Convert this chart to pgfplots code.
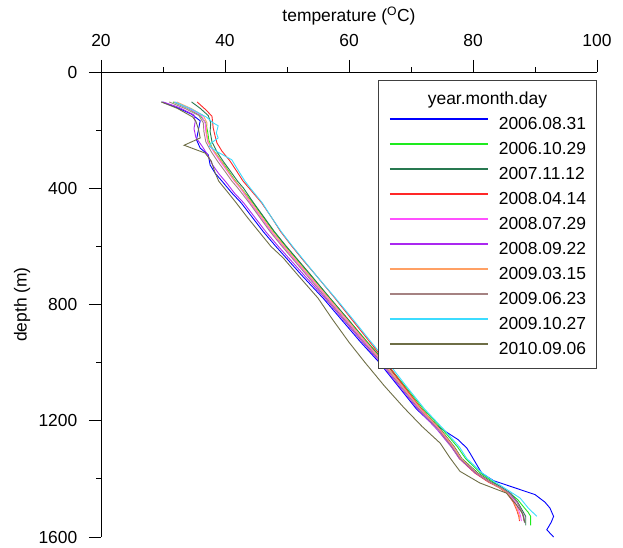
\documentclass[border=0pt]{standalone}
\usepackage{fontspec}
\setmainfont{Liberation Sans}
\usepackage{pgfplots}
\pgfplotsset{compat=1.18}
\usetikzlibrary{calc}

\definecolor{cA}{RGB}{0,0,255}
\definecolor{cB}{RGB}{30,235,30}
\definecolor{cC}{RGB}{40,120,80}
\definecolor{cD}{RGB}{255,40,40}
\definecolor{cE}{RGB}{255,80,255}
\definecolor{cF}{RGB}{170,40,240}
\definecolor{cG}{RGB}{255,160,100}
\definecolor{cH}{RGB}{165,130,130}
\definecolor{cI}{RGB}{60,220,255}
\definecolor{cJ}{RGB}{110,110,70}

\newcommand{\lblfont}{\fontsize{17.5}{20}\selectfont}

\begin{document}
\begin{tikzpicture}
\begin{axis}[
  name=ax,
  scale only axis, width=496bp, height=465bp,
  xmin=20, xmax=100, ymin=0, ymax=1600,
  y dir=reverse,
  axis x line=top, axis y line=left,
  axis line style={-, black, line width=0.9bp},
  tick align=outside,
  xtick={20,40,...,100}, minor xtick={30,50,70,90},
  ytick={0,400,...,1600}, minor ytick={200,600,1000,1400},
  major tick length=12bp, minor tick length=5bp,
  tick style={black, line width=0.9bp},
  ticklabel style={font=\lblfont},
  xticklabel style={yshift=10bp},
  yticklabel style={inner sep=0pt, xshift=-11.5bp},
  /pgf/number format/assume math mode=true,
  /pgf/number format/set thousands separator={},
  every axis x label/.style={at={(axis description cs:0.5,1)}, yshift=56bp, anchor=center},
  every axis y label/.style={at={(axis description cs:0,0.5)}, xshift=-79bp, rotate=90, anchor=center},
  label style={font=\lblfont},
  xlabel={temperature (\textsuperscript{O}C)},
  ylabel={depth (m)},
  no markers,
  every axis plot/.append style={line width=0.9bp},
  legend cell align=left,
  legend image code/.code={\draw[#1, line width=2bp] (0bp,5bp) -- (98bp,5bp);},
  legend style={at={(axis description cs:1,1)}, anchor=north east, yshift=-8bp,
    draw=black!75, line width=0.8bp, fill=white, font=\lblfont,
    inner xsep=10.5bp, inner ysep=11bp, row sep=9bp, column sep=10bp,
    nodes={inner sep=0pt, text height=13bp, text depth=3bp}},
]
\addlegendimage{empty legend}
\addlegendentry{\hspace*{-71bp}year.month.day}

% 2006.08.31
\addplot[cA] coordinates {
(29.8,103) (32.2,122) (34.6,145) (36.0,168) (35.7,200) (35.4,233) (36.0,262)
(37.3,285) (37.6,320) (38.4,348) (39.5,375) (41.1,416) (42.6,450) (44.4,500)
(46.2,550) (48.2,600) (50.3,650) (52.4,700) (55.9,780) (58.7,850) (61.9,930)
(64.9,1000) (67.9,1080) (70.9,1160) (72.9,1200) (75.5,1236) (77.6,1265)
(79.0,1294) (79.5,1311) (80.6,1351) (81.4,1380) (83.3,1406) (86.5,1429)
(90.0,1454) (91.6,1480) (92.4,1500) (93.0,1529) (92.6,1550) (91.9,1575) (93.0,1600)};
\addlegendentry{2006.08.31}

% 2006.10.29
\addplot[cB] coordinates {
(31.6,103) (34.0,125) (36.0,150) (36.9,175) (37.2,205) (37.4,235) (38.0,265)
(39.2,300) (40.4,335) (41.5,370) (42.6,400) (44.5,450) (46.2,500) (47.9,550)
(49.8,600) (51.8,650) (53.8,700) (57.0,780) (59.8,850) (63.0,930) (65.9,1000)
(69.0,1080) (72.0,1160) (75.1,1230) (77.5,1290) (78.8,1330) (81.2,1380)
(83.2,1410) (85.2,1437) (87.2,1471) (88.3,1500) (88.9,1515) (89.3,1529) (89.3,1560)};
\addlegendentry{2006.10.29}

% 2007.11.12
\addplot[cC] coordinates {
(34.6,103) (36.0,125) (37.3,150) (37.7,175) (37.6,205) (37.9,240) (38.7,275)
(39.8,310) (41.0,345) (42.0,375) (43.0,400) (44.6,450) (46.3,500) (48.0,550)
(49.9,600) (51.9,650) (53.9,700) (57.0,780) (59.8,850) (62.9,930) (65.8,1000)
(68.8,1080) (71.7,1160) (74.8,1230) (77.0,1290) (78.2,1330) (80.8,1380)
(82.9,1410) (84.7,1430) (86.1,1450) (87.2,1480) (88.0,1510) (88.5,1529) (88.5,1560)};
\addlegendentry{2007.11.12}

% 2008.04.14
\addplot[cD] coordinates {
(35.5,103) (36.8,128) (37.9,152) (38.1,193) (38.4,220) (38.7,244) (39.5,272)
(40.8,306) (42.0,345) (42.9,375) (43.9,400) (45.9,450) (47.5,500) (49.0,550)
(50.8,600) (52.7,650) (54.7,700) (57.8,780) (60.4,850) (63.4,930) (66.0,1000)
(68.8,1080) (71.7,1160) (74.6,1230) (76.6,1290) (77.8,1330) (80.3,1380)
(82.4,1410) (84.2,1430) (85.5,1450) (86.5,1480) (87.1,1510) (87.4,1530) (87.5,1545)};
\addlegendentry{2008.04.14}

% 2008.07.29
\addplot[cE] coordinates {
(31.8,103) (34.2,126) (36.2,150) (36.8,175) (36.9,205) (37.2,240) (38.2,275)
(39.3,310) (40.5,345) (41.5,375) (42.5,400) (44.1,450) (45.8,500) (47.5,550)
(49.4,600) (51.4,650) (53.4,700) (56.6,780) (59.4,850) (62.6,930) (65.5,1000)
(68.5,1080) (71.5,1160) (74.6,1230) (76.8,1290) (78.0,1330) (80.6,1380)
(82.7,1410) (84.4,1430) (85.7,1450) (86.8,1480) (87.4,1510) (87.7,1530) (87.8,1545)};
\addlegendentry{2008.07.29}

% 2008.09.22
\addplot[cF] coordinates {
(30.0,103) (32.6,122) (35.0,148) (35.2,170) (35.0,195) (35.3,225) (36.3,255)
(37.2,285) (38.0,320) (39.0,350) (40.2,380) (41.5,416) (43.0,450) (44.8,500)
(46.6,550) (48.6,600) (50.7,650) (52.8,700) (56.2,780) (59.0,850) (62.2,930)
(65.1,1000) (68.1,1080) (71.1,1160) (74.2,1230) (76.5,1290) (77.8,1330)
(80.4,1380) (82.6,1410) (84.4,1430) (85.9,1450) (87.1,1480) (87.8,1510) (88.2,1530) (88.3,1550)};
\addlegendentry{2008.09.22}

% 2009.03.15
\addplot[cG] coordinates {
(32.2,103) (34.6,126) (36.5,150) (37.1,175) (37.0,205) (37.3,240) (38.3,275)
(39.5,310) (40.6,345) (41.6,375) (42.6,400) (44.3,450) (46.0,500) (47.7,550)
(49.6,600) (51.6,650) (53.6,700) (56.8,780) (59.6,850) (62.8,930) (65.6,1000)
(68.6,1080) (71.6,1160) (74.7,1230) (76.9,1290) (78.1,1330) (80.6,1380)
(82.6,1410) (84.3,1430) (85.6,1450) (86.6,1480) (87.2,1510) (87.5,1530) (87.5,1540)};
\addlegendentry{2009.03.15}

% 2009.06.23
\addplot[cH] coordinates {
(31.0,103) (33.6,126) (35.8,150) (36.5,175) (36.6,205) (36.9,240) (37.8,275)
(38.9,310) (40.1,345) (41.1,375) (42.1,400) (43.9,450) (45.6,500) (47.3,550)
(49.2,600) (51.2,650) (53.2,700) (56.4,780) (59.2,850) (62.4,930) (65.3,1000)
(68.3,1080) (71.3,1160) (74.4,1230) (76.6,1290) (77.9,1330) (80.5,1380)
(82.6,1410) (84.5,1430) (85.9,1450) (87.1,1480) (87.8,1510) (88.1,1530) (88.2,1545)};
\addlegendentry{2009.06.23}

% 2009.10.27
\addplot[cI] coordinates {
(31.9,103) (34.5,127) (37.0,155) (38.1,175) (38.9,185) (38.6,210) (38.9,227)
(37.8,244) (37.5,256) (38.8,275) (41.1,302) (42.2,341) (43.2,375) (44.1,400)
(46.0,450) (47.5,500) (49.1,550) (50.9,600) (52.8,650) (54.7,700) (57.9,780)
(60.6,850) (63.6,930) (66.3,1000) (69.2,1080) (72.2,1160) (75.3,1230)
(77.8,1290) (79.0,1330) (81.5,1380) (83.5,1410) (85.5,1437) (87.6,1466)
(88.9,1500) (90.3,1529)};
\addlegendentry{2009.10.27}

% 2010.09.06
\addplot[cJ] coordinates {
(29.7,103) (32.3,125) (34.8,155) (35.3,170) (35.7,195) (36.0,227) (33.4,252)
(36.8,279) (37.8,307) (38.4,347) (39.0,376) (40.3,410) (41.8,450) (43.6,500)
(45.5,550) (47.4,600) (49.4,640) (51.8,700) (55.0,778) (57.3,850) (60.0,930)
(62.6,1000) (65.7,1080) (68.9,1156) (71.8,1220) (74.7,1277) (76.3,1328)
(77.9,1374) (81.1,1414) (85.4,1449) (87.0,1489) (88.0,1520) (88.4,1552)};
\addlegendentry{2010.09.06}
\end{axis}
\pgfresetboundingbox
\path ($(ax.south west)+(-101bp,-10bp)$) rectangle ($(ax.north east)+(26bp,72bp)$);
\end{tikzpicture}
\end{document}
